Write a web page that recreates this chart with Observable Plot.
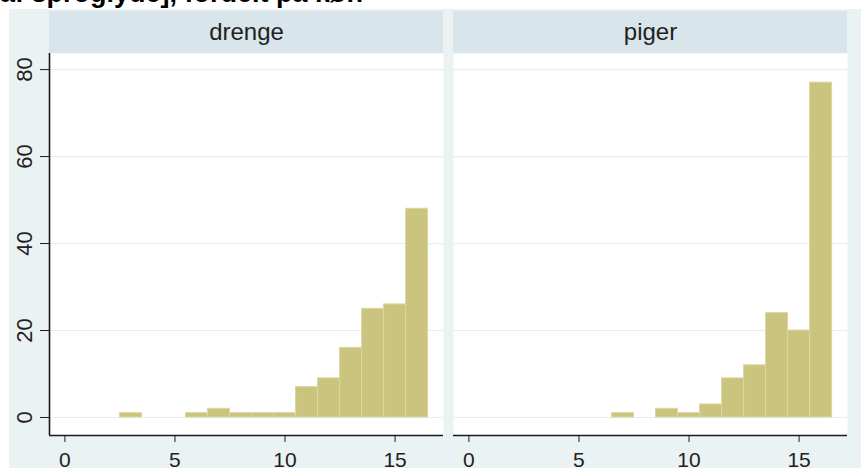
<!DOCTYPE html>
<html>
<head>
<meta charset="utf-8">
<script src="https://cdn.jsdelivr.net/npm/d3@7"></script>
<script src="https://cdn.jsdelivr.net/npm/@observablehq/plot@0.6"></script>
<style>
  html, body { margin: 0; padding: 0; background: #ffffff; overflow: hidden; }
  #wrap { position: relative; width: 861px; height: 468px; overflow: hidden; font-family: "Liberation Sans", Arial, sans-serif; }
  #bg { position: absolute; left: 9px; top: 9px; right: 0; bottom: 0; background: #eaf2f3; }
  .strip { position: absolute; top: 11px; height: 42px; width: 394px; background: #d8e5ea; }
  #title { position: absolute; left: 0; top: -20px; font-weight: bold; font-size: 27px; line-height: 27px; color: #000; white-space: nowrap; }
  #chart { position: absolute; left: 0; top: 0; }
  #chart svg { background: transparent !important; }
</style>
</head>
<body>
<div id="wrap">
  <div id="bg"></div>
  <div class="strip" style="left:49px"></div>
  <div class="strip" style="left:453px"></div>
  <div id="title">af sproglyde], fordelt på køn</div>
  <div id="chart"></div>
</div>
<script>
const groups = ["drenge", "piger"];
const drengeBins = [3, 6, 7, 8, 9, 10, 11, 12, 13, 14, 15, 16];
const drengeCounts = [1, 1, 2, 1, 1, 1, 7, 9, 16, 25, 26, 48];
const pigerBins = [7, 9, 10, 11, 12, 13, 14, 15, 16];
const pigerCounts = [1, 2, 1, 3, 9, 12, 24, 20, 77];
const xTicks = [0, 5, 10, 15];
const yTicks = [0, 20, 40, 60, 80];
const binWidth = 1;

const xDomain = [-0.7, 17.2];
const yDomain = [-4.14, 83.7];

const data = [
  ...drengeBins.map((b, i) => ({g: groups[0], b, n: drengeCounts[i]})),
  ...pigerBins.map((b, i) => ({g: groups[1], b, n: pigerCounts[i]}))
];

const chart = Plot.plot({
  width: 861,
  height: 468,
  marginLeft: 49,
  marginRight: 14,
  marginTop: 53,
  marginBottom: 33,
  style: {fontFamily: "'Liberation Sans', Arial, sans-serif", color: "#222", background: "transparent"},
  fx: {domain: groups, paddingInner: 10 / 404, paddingOuter: 0, axis: null},
  x: {domain: xDomain},
  y: {domain: yDomain},
  marks: [
    Plot.frame({fill: "white", stroke: "none"}),
    Plot.gridY(yTicks, {stroke: "#e6eef1", strokeOpacity: 1, strokeWidth: 1.2}),
    Plot.rectY(data, {
      fx: "g",
      x1: d => d.b - binWidth / 2,
      x2: d => d.b + binWidth / 2,
      y1: 0,
      y2: "n",
      fill: "#cbc47f",
      stroke: "#dcd7a1",
      strokeWidth: 1
    }),
    Plot.ruleY([yDomain[0]], {stroke: "#1a1a1a", strokeWidth: 1.6}),
    Plot.ruleX([{g: groups[0], v: xDomain[0]}], {fx: "g", x: "v", stroke: "#1a1a1a", strokeWidth: 1.6}),
    Plot.axisY(yTicks, {tickSize: 9, tickPadding: 9, tickRotate: -90, fontSize: 22, label: null, stroke: "#1a1a1a"}),
    Plot.axisX(xTicks, {tickSize: 7, tickPadding: 10, fontSize: 21, label: null, stroke: "#1a1a1a"}),
    Plot.axisFx({anchor: "top", label: null, tickSize: 0, tickPadding: 14, fontSize: 24})
  ]
});
document.getElementById("chart").appendChild(chart);
</script>
</body>
</html>
